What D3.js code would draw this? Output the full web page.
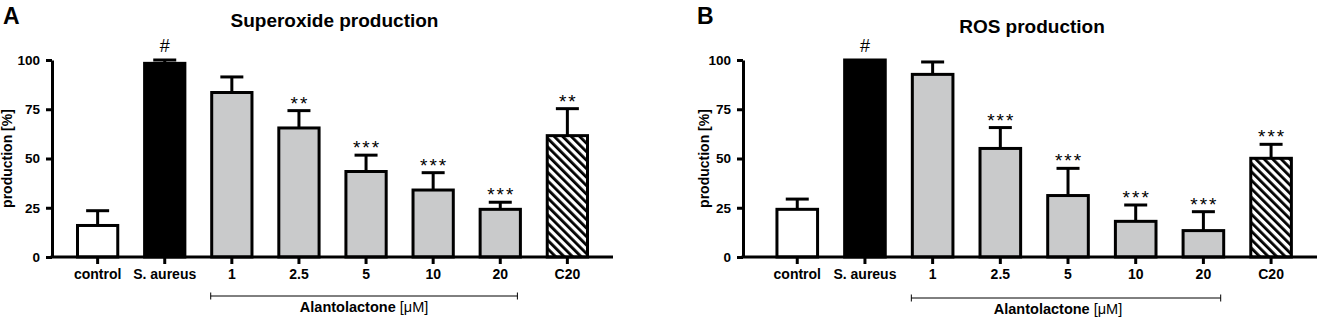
<!DOCTYPE html>
<html>
<head>
<meta charset="utf-8">
<script src="https://cdn.jsdelivr.net/npm/d3@7"></script>
<style>
  body { margin: 0; background: #fff; }
  text { font-family: "Liberation Sans", Arial, sans-serif; }
</style>
</head>
<body>
<div id="chart"></div>
<script>
// data
var categories = ["control", "S. aureus", "1", "2.5", "5", "10", "20", "C20"];
var barKinds = ["white", "black", "gray", "gray", "gray", "gray", "gray", "hatch"];
var yTicks = [0, 25, 50, 75, 100];

var superoxideMean = [16, 98.3, 83.5, 65.5, 43.4, 34, 24.2, 61.6];
var superoxideErr = [7.5, 1.7, 7.9, 8.8, 8.3, 8.8, 3.6, 13.7];
var superoxideSig = ["", "#", "", "**", "***", "***", "***", "**"];

var rosMean = [24.2, 100, 92.7, 55.1, 31.2, 18.1, 13.4, 50.1];
var rosErr = [5.2, 0, 6.3, 10.6, 13.8, 8.3, 9.6, 7.1];
var rosSig = ["", "#", "", "***", "***", "***", "***", "***"];

var width = 1319, height = 318;
var yTop = 60, yBottom = 257;

var svg = d3.select("#chart").append("svg")
    .attr("width", width)
    .attr("height", height);

svg.append("rect").attr("width", width).attr("height", height).attr("fill", "#fff");

// diagonal hatch for the C20 bar
var defs = svg.append("defs");
defs.append("pattern")
    .attr("id", "hatch")
    .attr("patternUnits", "userSpaceOnUse")
    .attr("width", 6)
    .attr("height", 6)
    .attr("patternTransform", "rotate(-45)")
    .call(function(p) {
        p.append("rect").attr("width", 6).attr("height", 6).attr("fill", "#fff");
        p.append("rect").attr("width", 2.8).attr("height", 6).attr("fill", "#000");
    });

var fills = {white: "#fff", black: "#000", gray: "#c9cacb", hatch: "url(#hatch)"};

function drawPanel(opt) {
    var g = svg.append("g");

    var x = d3.scaleBand()
        .domain(categories)
        .range([opt.left, opt.right])
        .paddingInner(0.4)
        .paddingOuter(opt.padOuter)
        .align(opt.align);
    var y = d3.scaleLinear().domain([0, 100]).range([yBottom, yTop]);

    // panel letter and title
    g.append("text")
        .attr("x", opt.letterX)
        .attr("y", 24)
        .style("font-size", "23px")
        .style("font-weight", "bold")
        .text(opt.letter);
    g.append("text")
        .attr("x", (opt.left + opt.right) / 2 + 2)
        .attr("y", opt.titleY)
        .attr("text-anchor", "middle")
        .style("font-size", "19px")
        .style("font-weight", "bold")
        .text(opt.title);

    // y label
    g.append("text")
        .attr("transform", "translate(" + opt.ylabelX + "," + (yTop + yBottom) / 2 + ") rotate(-90)")
        .attr("text-anchor", "middle")
        .style("font-size", "14px")
        .style("font-weight", "bold")
        .text("production [%]");

    // bars
    var rows = categories.map(function(c, i) {
        return {cat: c, mean: opt.mean[i], err: opt.err[i], sig: opt.sig[i], kind: barKinds[i]};
    });
    var bw = x.bandwidth();

    var bar = g.selectAll(".bar")
        .data(rows).enter()
        .append("g")
        .attr("class", "bar");

    bar.filter(function(d) { return d.err > 0; })
        .append("line")
        .attr("x1", function(d) { return x(d.cat) + bw / 2; })
        .attr("x2", function(d) { return x(d.cat) + bw / 2; })
        .attr("y1", function(d) { return y(d.mean); })
        .attr("y2", function(d) { return y(d.mean + d.err); })
        .attr("stroke", "#000")
        .attr("stroke-width", 3);
    bar.filter(function(d) { return d.err > 0; })
        .append("line")
        .attr("x1", function(d) { return x(d.cat) + bw / 2 - 11.5; })
        .attr("x2", function(d) { return x(d.cat) + bw / 2 + 11.5; })
        .attr("y1", function(d) { return y(d.mean + d.err); })
        .attr("y2", function(d) { return y(d.mean + d.err); })
        .attr("stroke", "#000")
        .attr("stroke-width", 3);

    bar.append("rect")
        .attr("x", function(d) { return x(d.cat); })
        .attr("y", function(d) { return y(d.mean); })
        .attr("width", bw)
        .attr("height", function(d) { return y(0) - y(d.mean); })
        .attr("fill", function(d) { return fills[d.kind]; })
        .attr("stroke", "#000")
        .attr("stroke-width", 3);

    bar.append("text")
        .attr("x", function(d) { return x(d.cat) + bw / 2 + (d.sig == "#" ? 0 : 1); })
        .attr("y", function(d) { return y(d.mean + d.err) - (d.sig == "#" ? 8 : 1); })
        .attr("text-anchor", "middle")
        .style("font-size", function(d) { return d.sig == "#" ? "18px" : "19px"; })
        .style("letter-spacing", function(d) { return d.sig == "#" ? "0px" : "2px"; })
        .text(function(d) { return d.sig; });

    // axes
    var yAxis = g.append("g")
        .attr("transform", "translate(" + opt.left + ",0)")
        .call(d3.axisLeft(y).tickValues(yTicks).tickSize(6).tickSizeOuter(0).tickPadding(6));
    var xAxis = g.append("g")
        .attr("transform", "translate(0," + yBottom + ")")
        .call(d3.axisBottom(x).tickSize(7).tickSizeOuter(0).tickPadding(5));

    [yAxis, xAxis].forEach(function(ax) {
        ax.select(".domain").attr("stroke-width", 3);
        ax.selectAll(".tick line").attr("stroke-width", 3);
        ax.selectAll(".tick text")
            .style("font-size", "13.5px")
            .style("font-weight", "bold")
            .style("font-family", "'Liberation Sans', Arial, sans-serif")
            .attr("fill", "#000");
    });
    xAxis.selectAll(".tick text").style("font-size", "14px");
    // extend x axis left to meet the y axis
    xAxis.select(".domain").attr("d", "M" + (opt.left - 1.5) + ",0H" + opt.right);

    // Alantolactone bracket
    var bx0 = x("1") - 1, bx1 = x("20") + bw - 3;
    g.append("path")
        .attr("d", "M" + bx0 + "," + (opt.bracketY - 3.5) + "V" + (opt.bracketY + 3.5) +
                   "M" + bx0 + "," + opt.bracketY + "H" + bx1 +
                   "M" + bx1 + "," + (opt.bracketY - 3.5) + "V" + (opt.bracketY + 3.5))
        .attr("stroke", "#000")
        .attr("stroke-width", 1)
        .attr("fill", "none");
    var lab = g.append("text")
        .attr("x", (bx0 + bx1) / 2 + opt.labShift)
        .attr("y", opt.bracketY + 16)
        .attr("text-anchor", "middle")
        .style("font-size", "14.5px");
    lab.append("tspan").style("font-weight", "bold").text("Alantolactone ");
    lab.append("tspan").text("[\u03bcM]");
}

drawPanel({
    letter: "A", letterX: 3, title: "Superoxide production", titleY: 27,
    left: 52, right: 613, padOuter: 0.38, align: 0.5, ylabelX: 12,
    bracketY: 296, labShift: 0,
    mean: superoxideMean, err: superoxideErr, sig: superoxideSig
});
drawPanel({
    letter: "B", letterX: 697, title: "ROS production", titleY: 33,
    left: 743, right: 1317, padOuter: 0.44, align: 0.57, ylabelX: 709,
    bracketY: 298, labShift: -8,
    mean: rosMean, err: rosErr, sig: rosSig
});
</script>
</body>
</html>
